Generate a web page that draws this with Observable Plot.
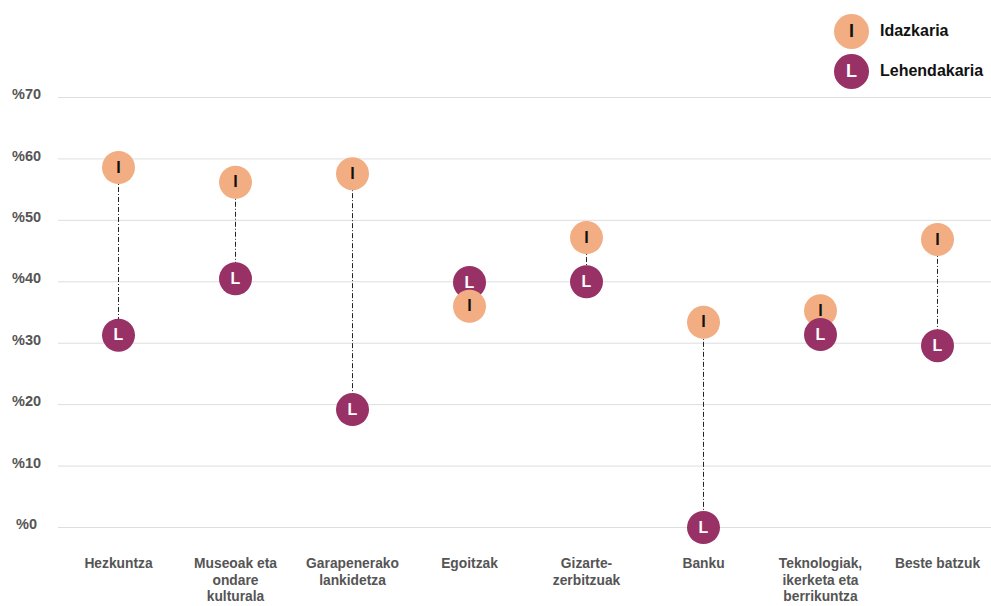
<!DOCTYPE html>
<html>
<head>
<meta charset="utf-8">
<script src="https://cdn.jsdelivr.net/npm/d3@7"></script>
<script src="https://cdn.jsdelivr.net/npm/@observablehq/plot@0.6"></script>
<style>
  html, body { margin: 0; padding: 0; background: #fff; }
  body { width: 991px; height: 606px; position: relative; overflow: hidden; font-family: "Liberation Sans", Arial, sans-serif; }
  #legend { position: absolute; left: 834px; top: 11px; }
  .item { display: flex; align-items: center; height: 40px; }
  .sw { width: 35px; height: 35px; border-radius: 50%; display: flex; align-items: center; justify-content: center; font-weight: bold; font-size: 18px; margin-right: 11px; }
  .lab { font-weight: bold; font-size: 16px; color: #111; }
</style>
</head>
<body>
<div id="chart"></div>
<div id="legend"></div>
<script>
const categories = ["Hezkuntza", "Museoak eta\nondare\nkulturala", "Garapenerako\nlankidetza", "Egoitzak", "Gizarte-\nzerbitzuak", "Banku", "Teknologiak,\nikerketa eta\nberrikuntza", "Beste batzuk"];
const idazkaria = [58.6, 56.2, 57.6, 36.0, 47.2, 33.4, 35.3, 46.9];
const lehendakaria = [31.3, 40.5, 19.2, 39.9, 40.0, 0.0, 31.4, 29.6];
const yTicks = [0, 10, 20, 30, 40, 50, 60, 70];
const series = [
  {name: "Idazkaria", letter: "I", fill: "#F2AE82", text: "#111"},
  {name: "Lehendakaria", letter: "L", fill: "#983165", text: "#fff"}
];

const pairs = categories.map((c, i) => ({cat: c, i: idazkaria[i], l: lehendakaria[i]}));
const dots = [];
categories.forEach((c, k) => {
  dots.push({cat: c, v: idazkaria[k], s: series[0]});
  dots.push({cat: c, v: lehendakaria[k], s: series[1]});
});
dots.sort((a, b) => b.v - a.v);

const chart = Plot.plot({
  width: 991,
  height: 606,
  marginTop: 97,
  marginBottom: 79,
  marginLeft: 58,
  marginRight: -5,
  style: {fontFamily: "Liberation Sans, Arial, sans-serif", background: "#fff", overflow: "hidden"},
  x: {type: "point", domain: categories, padding: 0.5, label: null},
  y: {domain: [0, 70], label: null},
  marks: [
    Plot.ruleY(yTicks, {stroke: "#dedede", strokeWidth: 1}),
    Plot.axisY(yTicks, {tickSize: 0, tickPadding: 32, textAnchor: "middle", dy: -3, tickFormat: d => "%" + d, fontSize: 14.5, fontWeight: "bold", fill: "#555", label: null}),
    Plot.axisX({tickSize: 0, tickPadding: 29, lineAnchor: "top", lineHeight: 1.2, fontSize: 13.8, fontWeight: "bold", fill: "#555", label: null}),
    Plot.ruleX(pairs, {x: "cat", y1: "i", y2: "l", stroke: "#222", strokeWidth: 1, strokeDasharray: "5,2,1,2"}),
    Plot.dot(dots, {x: "cat", y: "v", r: 16.5, fill: d => d.s.fill, stroke: "none"}),
    Plot.text(dots, {x: "cat", y: "v", text: d => d.s.letter, fill: d => d.s.text, fontSize: 16, fontWeight: "bold"})
  ]
});
document.getElementById("chart").appendChild(chart);

const legend = document.getElementById("legend");
series.forEach(s => {
  const it = document.createElement("div");
  it.className = "item";
  const sw = document.createElement("div");
  sw.className = "sw";
  sw.style.background = s.fill;
  sw.style.color = s.text;
  sw.textContent = s.letter;
  const lab = document.createElement("span");
  lab.className = "lab";
  lab.textContent = s.name;
  it.appendChild(sw);
  it.appendChild(lab);
  legend.appendChild(it);
});
</script>
</body>
</html>
